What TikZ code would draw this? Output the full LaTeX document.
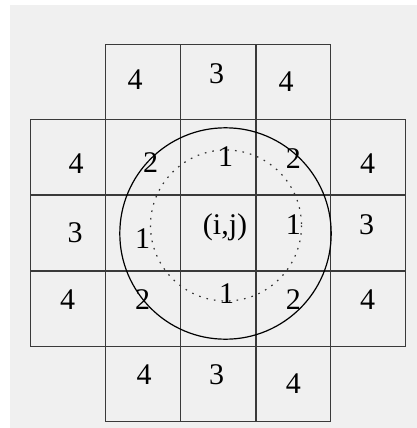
\documentclass[tikz,border=0pt]{standalone}
\usepackage{fontspec}
\setmainfont{Liberation Serif}
\definecolor{paper}{HTML}{F0F0F0}
\definecolor{gridline}{HTML}{3A3A3A}

\begin{document}
\begin{tikzpicture}[x=0.5pt,y=-0.5pt,
  num/.style={font=\fontsize{15}{17}\selectfont,inner sep=0pt}]
  \useasboundingbox (0,0) rectangle (417,428);
  \fill[white] (0,0) rectangle (417,428);
  \fill[paper] (10,5) rectangle (417,428);
  % stencil cells
  \draw[gridline,line width=0.55pt] (105.7,44.3) rectangle (330.7,421.7);
  \draw[gridline,line width=0.55pt] (30.7,119.3) rectangle (405.7,346.7);
  \foreach \x in {180.7,256} {
    \draw[gridline,line width=0.55pt] (\x,44.3) -- (\x,421.7);
  }
  \foreach \y in {195,271} {
    \draw[gridline,line width=0.55pt] (30.7,\y) -- (405.7,\y);
  }
  % circles
  \coordinate (c) at (225.5,233.5);
  \draw[black,line width=0.6pt] (c) circle (105.7);
  \draw[black!80,line width=0.6pt,dash pattern=on 0.8pt off 3pt] (226,225.5) circle (75.5);
  % labels
  \foreach \n/\x/\y/\t in {a1/135/80/4, a2/216.7/74/3, a3/286/81.7/4,
      b1/76/163.3/4, b2/150.7/162.3/2, b3/225.7/156.7/1, b4/293.3/158.3/2, b5/367.7/164/4,
      c1/75/232.3/3, c2/142.7/239/1, c4/293.3/224.3/1, c5/366.7/224.3/3,
      d1/67.7/300/4, d2/142.7/300/2, d3/226.7/294/1, d4/293.3/300/2, d5/367.7/300/4,
      e1/144/375/4, e2/216.7/375/3, e3/293.3/383.3/4} {
    \node[num] (\n) at (\x,\y) {\t};
  }
  \node[num] (c3) at (225,227.7) {(i,j)};
\end{tikzpicture}
\end{document}
